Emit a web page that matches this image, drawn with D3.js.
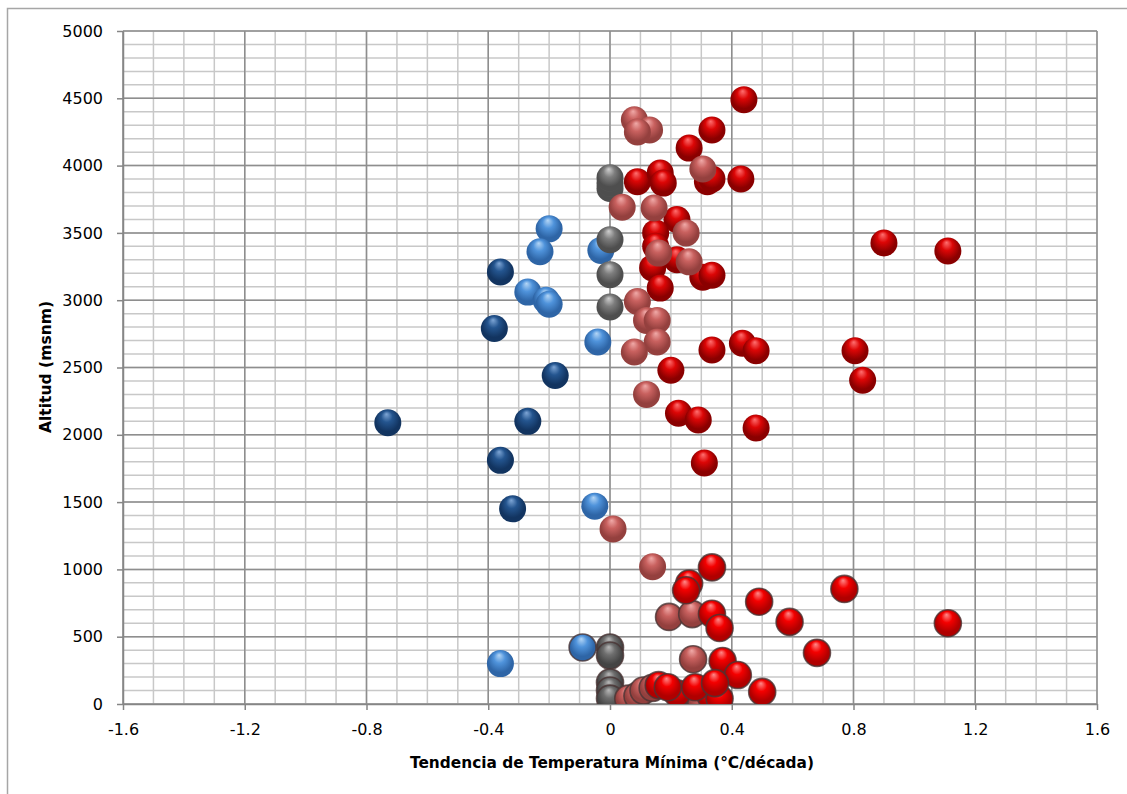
<!DOCTYPE html>
<html><head><meta charset="utf-8">
<script src="https://cdn.jsdelivr.net/npm/d3@7"></script>
<style>html,body{margin:0;padding:0;background:#fff;}svg{display:block;}</style>
</head><body>
<script>
// ---- data (x = tendencia °C/década, y = altitud msnm) ----
const xTickValues = [-1.6, -1.2, -0.8, -0.4, 0, 0.4, 0.8, 1.2, 1.6];
const xTickLabels = ["-1.6", "-1.2", "-0.8", "-0.4", "0", "0.4", "0.8", "1.2", "1.6"];
const yTickValues = [0, 500, 1000, 1500, 2000, 2500, 3000, 3500, 4000, 4500, 5000];
const yTickLabels = ["0", "500", "1000", "1500", "2000", "2500", "3000", "3500", "4000", "4500", "5000"];
const xTitle = "Tendencia  de Temperatura Mínima (°C/década)";
const yTitle = "Altitud (msnm)";

const sigNeg = [[-0.73,2090],[-0.36,3210],[-0.38,2790],[-0.18,2440],[-0.27,2100],[-0.36,1810],[-0.32,1450]];
const nsNeg = [[-0.20,3530],[-0.23,3360],[-0.27,3060],[-0.21,3000],[-0.20,2970],[-0.03,3370],[-0.04,2690],[-0.05,1470],[-0.36,300]];
const zeroTrend = [[0,3450],[0,3190],[0,2950],[0,3830],[0,3870],[0,3910]];
const nsPos = [[0.08,4340],[0.13,4265],[0.09,4250],[0.04,3690],[0.145,3685],[0.25,3500],[0.16,3350],[0.26,3285],
  [0.09,2990],[0.12,2850],[0.155,2850],[0.155,2690],[0.08,2615],[0.12,2300],[0.01,1300],[0.14,1020]];
const sigPos = [[0.44,4490],[0.335,4265],[0.26,4130],[0.32,3880],[0.335,3900],[0.43,3900],[0.09,3880],[0.165,3945],
  [0.175,3870],[0.22,3600],[0.15,3500],[0.15,3400],[0.22,3300],[0.14,3240],[0.305,3170],[0.335,3185],[0.165,3090],
  [0.90,3425],[1.11,3365],[0.335,2630],[0.435,2680],[0.48,2625],[0.805,2625],[0.83,2405],[0.20,2480],
  [0.225,2160],[0.29,2110],[0.48,2050],[0.31,1790]];
const nsPosUpperTop = [[0.305,3975]];
// low-altitude stations (drawn with a dark rim)
const nsNegLow = [[-0.09,420]];
const zeroLow = [[0,420],[0,360],[0,160],[0,100],[0,40]];
const nsPosLow = [[0.194,647],[0.27,668],[0.273,333],[0.06,40],[0.09,60],[0.11,100],[0.14,120],[0.24,60],[0.27,90],[0.30,20]];
const sigPosLow = [[0.26,895],[0.25,845],[0.335,1015],[0.335,670],[0.49,760],[0.59,610],[0.77,855],[1.11,600],[0.68,380],
  [0.37,320],[0.42,215],[0.16,140],[0.22,80],[0.33,60],[0.36,40],[0.28,125],[0.19,125],[0.345,155],[0.50,90],[0.36,565]];

// ---- chart ----
const W = 1127, H = 794;
const pLeft = 123, pRight = 1097, pTop = 31, pBottom = 704;
const R = 13.5;
const svg = d3.select("body").append("svg").attr("width", W).attr("height", H)
  .style("font-family", "'DejaVu Sans', sans-serif");

const x = d3.scaleLinear().domain([-1.6, 1.6]).range([pLeft, pRight]);
const y = d3.scaleLinear().domain([0, 5000]).range([pBottom, pTop]);

const defs = svg.append("defs");
function sphere(id, hi, mid, dark) {
  const g = defs.append("radialGradient").attr("id", id)
    .attr("cx", "50%").attr("cy", "45%").attr("r", "60%").attr("fx", "45%").attr("fy", "18%");
  g.append("stop").attr("offset", "0%").attr("stop-color", hi);
  g.append("stop").attr("offset", "35%").attr("stop-color", mid);
  g.append("stop").attr("offset", "75%").attr("stop-color", dark);
  g.append("stop").attr("offset", "100%").attr("stop-color", dark);
}
sphere("gDarkBlue", "#7ea6d6", "#24558f", "#123460");
sphere("gLightBlue", "#b4d6f6", "#4f93db", "#2e65a6");
sphere("gGray", "#cfcfcf", "#7d7d7d", "#4e4e4e");
sphere("gGrayDark", "#b8b8b8", "#6e6e6e", "#444444");
sphere("gSalmon", "#f0aaa8", "#c9615f", "#94403e");
sphere("gRed", "#ff7070", "#dc0606", "#8a0000");
sphere("gRedBright", "#ff8a8a", "#f40000", "#b00000");
defs.append("clipPath").attr("id", "plotClip").append("rect")
  .attr("x", pLeft).attr("y", pTop).attr("width", pRight - pLeft).attr("height", pBottom - pTop);

// outer chart border
svg.append("rect").attr("x", 7.5).attr("y", 8.5).attr("width", 1300).attr("height", 1000)
  .attr("fill", "none").attr("stroke", "#a6a6a6").attr("stroke-width", 1.5);

// minor grid
const gGrid = svg.append("g");
gGrid.append("g").selectAll("line").data(d3.range(-16, 17).map(d => d / 10)).join("line")
  .attr("x1", d => x(d)).attr("x2", d => x(d)).attr("y1", pTop).attr("y2", pBottom)
  .attr("stroke", "#c8c8c8").attr("stroke-width", 1.5);
gGrid.append("g").selectAll("line").data(d3.range(0, 51).map(d => d * 100)).join("line")
  .attr("y1", d => y(d)).attr("y2", d => y(d)).attr("x1", pLeft).attr("x2", pRight)
  .attr("stroke", "#c8c8c8").attr("stroke-width", 1.5);
// major grid
gGrid.append("g").selectAll("line").data(xTickValues).join("line")
  .attr("x1", d => x(d)).attr("x2", d => x(d)).attr("y1", pTop).attr("y2", pBottom)
  .attr("stroke", "#8e8e8e").attr("stroke-width", 1.5);
gGrid.append("g").selectAll("line").data(yTickValues).join("line")
  .attr("y1", d => y(d)).attr("y2", d => y(d)).attr("x1", pLeft).attr("x2", pRight)
  .attr("stroke", "#8e8e8e").attr("stroke-width", 1.5);

// axes
const xAxis = d3.axisBottom(x).tickValues(xTickValues).tickFormat((d, i) => xTickLabels[i])
  .tickSizeInner(6).tickSizeOuter(0).tickPadding(14);
const yAxis = d3.axisLeft(y).tickValues(yTickValues).tickFormat((d, i) => yTickLabels[i])
  .tickSizeInner(6).tickSizeOuter(0).tickPadding(14);
const gx = svg.append("g").attr("transform", `translate(0,${pBottom})`).call(xAxis);
const gy = svg.append("g").attr("transform", `translate(${pLeft},0)`).call(yAxis);
[gx, gy].forEach(g => {
  g.select(".domain").attr("stroke", "#868686").attr("stroke-width", 1.5);
  g.selectAll(".tick line").attr("stroke", "#868686").attr("stroke-width", 1.5);
  g.selectAll(".tick text").attr("fill", "#000").style("font-size", "16px")
    .style("font-family", "'DejaVu Sans', sans-serif");
});

// points
const plot = svg.append("g").attr("clip-path", "url(#plotClip)");
function drawSeries(data, grad, rim) {
  plot.append("g").selectAll("circle").data(data).join("circle")
    .attr("cx", d => x(d[0])).attr("cy", d => y(d[1])).attr("r", R)
    .attr("fill", `url(#${grad})`)
    .attr("stroke", rim ? "#4a3535" : "none").attr("stroke-width", rim ? 1.6 : 0)
    .attr("stroke-opacity", 0.8);
}
drawSeries(sigNeg, "gDarkBlue", false);
drawSeries(nsNeg, "gLightBlue", false);
drawSeries(zeroTrend, "gGray", false);
drawSeries(sigPos, "gRed", false);
drawSeries(nsPos, "gSalmon", false);
drawSeries(nsPosUpperTop, "gSalmon", false);
drawSeries(nsNegLow, "gLightBlue", true);
drawSeries(zeroLow, "gGrayDark", true);
drawSeries(nsPosLow, "gSalmon", true);
drawSeries(sigPosLow, "gRedBright", true);

// titles
svg.append("text").attr("x", 612).attr("y", 768).attr("text-anchor", "middle")
  .style("font-size", "16px").style("font-weight", "bold").attr("fill", "#000")
  .attr("textLength", 404).attr("lengthAdjust", "spacingAndGlyphs")
  .text(xTitle);
svg.append("text").attr("transform", "translate(51,367) rotate(-90)").attr("text-anchor", "middle")
  .style("font-size", "16px").style("font-weight", "bold").attr("fill", "#000")
  .attr("textLength", 132).attr("lengthAdjust", "spacingAndGlyphs")
  .text(yTitle);
</script>
</body></html>
